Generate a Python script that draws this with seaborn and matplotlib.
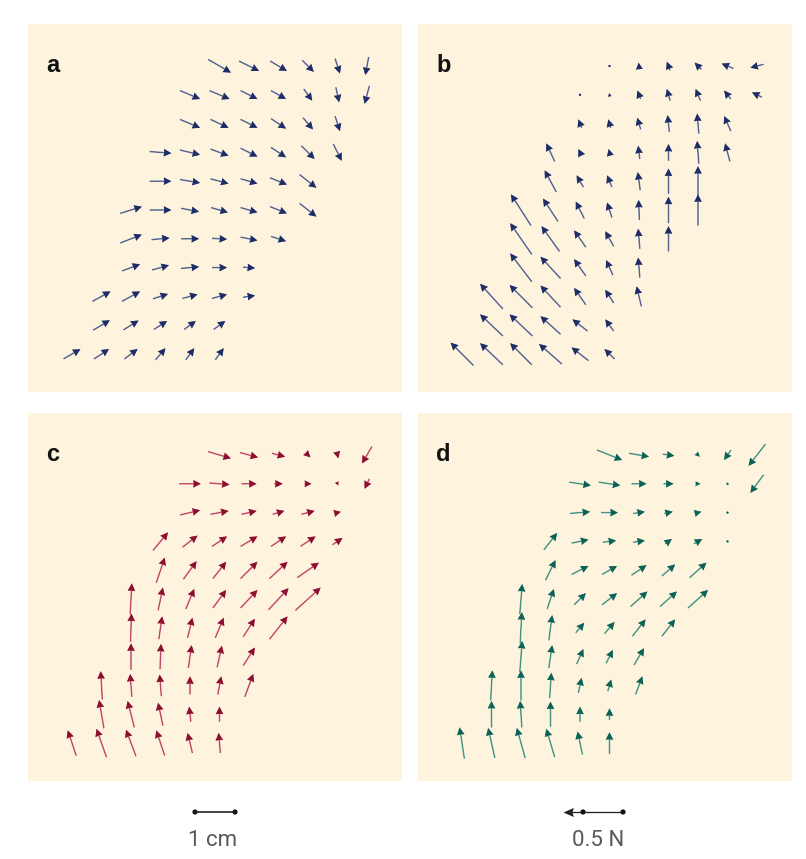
import numpy as np
import matplotlib
matplotlib.use("Agg")
import matplotlib.pyplot as plt
import seaborn as sns
import pandas as pd

# ---------------- grid of measurement points (column index range per row, bottom row first)
ROW_START = [0, 1, 1, 2, 2, 2, 3, 3, 4, 4, 5]
ROW_END = [5, 5, 6, 6, 7, 8, 8, 9, 9, 10, 10]
STEP_X_CM = 0.7375
STEP_Y_CM = 0.72

# ---------------- force vectors (N), one list per row, bottom row first
A_FX = [[0.14, 0.125, 0.11, 0.083, 0.07, 0.07],
        [0.14, 0.125, 0.11, 0.097, 0.097],
        [0.15, 0.15, 0.125, 0.125, 0.125, 0.10],
        [0.15, 0.14, 0.15, 0.125, 0.10],
        [0.18, 0.15, 0.15, 0.125, 0.14, 0.125],
        [0.18, 0.18, 0.15, 0.14, 0.14, 0.14, 0.14],
        [0.18, 0.167, 0.15, 0.14, 0.14, 0.14],
        [0.18, 0.167, 0.15, 0.14, 0.125, 0.11, 0.07],
        [0.167, 0.15, 0.14, 0.125, 0.083, 0.04],
        [0.167, 0.167, 0.14, 0.125, 0.07, 0.028, -0.04],
        [0.19, 0.167, 0.14, 0.097, 0.04, -0.028]]
A_FY = [[0.08, 0.083, 0.083, 0.097, 0.097, 0.097],
        [0.083, 0.078, 0.07, 0.07, 0.07],
        [0.083, 0.083, 0.04, 0.033, 0.033, 0.014],
        [0.056, 0.04, 0.014, 0.0, -0.008],
        [0.07, 0.014, 0.0, -0.008, -0.028, -0.04],
        [0.056, 0.0, -0.028, -0.04, -0.04, -0.056, -0.11],
        [0.0, -0.028, -0.04, -0.04, -0.056, -0.11],
        [-0.014, -0.04, -0.056, -0.07, -0.083, -0.11, -0.14],
        [-0.07, -0.07, -0.07, -0.083, -0.097, -0.125],
        [-0.07, -0.07, -0.07, -0.07, -0.097, -0.125, -0.15],
        [-0.11, -0.083, -0.083, -0.097, -0.125, -0.15]]

B_FX = [[-0.19, -0.19, -0.18, -0.19, -0.14, -0.083],
        [-0.19, -0.19, -0.167, -0.125, -0.07],
        [-0.19, -0.19, -0.167, -0.097, -0.07, -0.04],
        [-0.18, -0.167, -0.097, -0.056, -0.014],
        [-0.18, -0.15, -0.097, -0.07, -0.014, 0.0],
        [-0.167, -0.125, -0.07, -0.04, -0.006, 0.0, 0.0],
        [-0.097, -0.056, -0.04, -0.02, 0.0, 0.0],
        [-0.07, -0.028, -0.014, -0.014, 0.0, -0.014, -0.04],
        [-0.028, -0.02, -0.028, -0.014, -0.014, -0.056],
        [0.0, -0.006, -0.028, -0.028, -0.04, -0.056, -0.083],
        [0.0, -0.006, -0.028, -0.056, -0.097, -0.11]]
B_FY = [[0.19, 0.18, 0.18, 0.167, 0.11, 0.083],
        [0.18, 0.18, 0.15, 0.097, 0.097],
        [0.21, 0.19, 0.18, 0.14, 0.11, 0.167],
        [0.236, 0.18, 0.14, 0.125, 0.167],
        [0.26, 0.21, 0.14, 0.125, 0.167, 0.21],
        [0.26, 0.19, 0.14, 0.125, 0.167, 0.22, 0.26],
        [0.18, 0.097, 0.097, 0.15, 0.21, 0.25],
        [0.15, 0.056, 0.056, 0.11, 0.14, 0.19, 0.15],
        [0.07, 0.07, 0.097, 0.14, 0.167, 0.125],
        [0.02, 0.028, 0.07, 0.097, 0.097, 0.07, 0.04],
        [0.02, 0.056, 0.07, 0.056, 0.04, -0.028]]

C_FX = [[-0.07, -0.083, -0.083, -0.07, -0.04, -0.014],
        [-0.04, -0.056, -0.04, -0.014, 0.0],
        [-0.014, -0.014, -0.014, 0.0, 0.028, 0.07],
        [0.0, 0.008, 0.028, 0.04, 0.097],
        [0.008, 0.028, 0.04, 0.07, 0.097, 0.15],
        [0.014, 0.04, 0.07, 0.11, 0.14, 0.167, 0.21],
        [0.07, 0.11, 0.11, 0.14, 0.15, 0.18],
        [0.125, 0.125, 0.125, 0.14, 0.125, 0.125, 0.083],
        [0.167, 0.15, 0.125, 0.097, 0.11, 0.056],
        [0.18, 0.167, 0.125, 0.07, 0.056, 0.014, -0.04],
        [0.19, 0.15, 0.11, 0.04, 0.014, -0.083]]
C_FY = [[0.21, 0.236, 0.22, 0.21, 0.167, 0.167],
        [0.236, 0.22, 0.19, 0.125, 0.125],
        [0.236, 0.19, 0.18, 0.15, 0.15, 0.19],
        [0.22, 0.21, 0.19, 0.18, 0.15],
        [0.236, 0.19, 0.167, 0.167, 0.15, 0.19],
        [0.26, 0.19, 0.167, 0.15, 0.15, 0.18, 0.19],
        [0.21, 0.15, 0.14, 0.14, 0.14, 0.125],
        [0.15, 0.097, 0.083, 0.083, 0.083, 0.083, 0.056],
        [0.04, 0.028, 0.028, 0.028, 0.028, 0.014],
        [0.0, -0.014, 0.0, 0.0, 0.0, -0.028, -0.083],
        [-0.056, -0.04, -0.028, -0.04, -0.056, -0.14]]

D_FX = [[-0.04, -0.056, -0.07, -0.07, -0.04, 0.0],
        [0.0, -0.014, 0.0, 0.0, 0.0],
        [0.014, 0.0, 0.014, 0.028, 0.028, 0.056],
        [0.02, 0.028, 0.056, 0.056, 0.083],
        [0.014, 0.028, 0.07, 0.083, 0.11, 0.11],
        [0.02, 0.056, 0.097, 0.125, 0.14, 0.14, 0.167],
        [0.083, 0.14, 0.125, 0.125, 0.11, 0.14],
        [0.11, 0.14, 0.11, 0.097, 0.056, 0.07, 0.008],
        [0.167, 0.14, 0.097, 0.07, 0.056, 0.01],
        [0.18, 0.18, 0.125, 0.083, 0.04, 0.0, -0.11],
        [0.21, 0.167, 0.097, 0.028, -0.056, -0.14]]
D_FY = [[0.26, 0.25, 0.25, 0.236, 0.19, 0.18],
        [0.22, 0.22, 0.21, 0.125, 0.097],
        [0.25, 0.25, 0.21, 0.125, 0.097, 0.15],
        [0.26, 0.19, 0.125, 0.11, 0.14],
        [0.26, 0.21, 0.083, 0.097, 0.14, 0.14],
        [0.25, 0.167, 0.097, 0.097, 0.125, 0.125, 0.15],
        [0.167, 0.07, 0.07, 0.083, 0.097, 0.125],
        [0.14, 0.028, 0.014, 0.014, 0.04, 0.04, 0.0],
        [0.014, 0.0, 0.014, 0.014, 0.014, -0.01],
        [-0.028, -0.028, 0.0, 0.0, 0.0, -0.014, -0.15],
        [-0.083, -0.028, -0.014, -0.028, -0.083, -0.18]]

PANEL_LABELS = ["a", "b", "c", "d"]
SCALE_LEN_CM = 1.0
SCALE_FORCE_N = 0.5
SCALE_TEXTS = ["1 cm", "0.5 N"]

# ---------------- layout / style
W, H = 806, 859
PX_PER_CM = 40.0
N_PER_CM = 1.0 / 3.0          # 0.5 N drawn as 1.5 cm
PANEL_W, PANEL_H = 374, 368
PANEL_POS = {"a": (28, 24), "b": (418, 24), "c": (28, 413), "d": (418, 413)}
X_OFF_CM, Y_OFF_CM = 1.1, 0.95
BG = "#fef3dc"
COLORS = {"a": ("#6e7aa6", "#1f2d66"), "b": ("#6e7aa6", "#1f2d66"),
          "c": ("#d6637e", "#8a0f30"), "d": ("#5ea897", "#0d6156")}


def build_frame(fx, fy):
    rows = []
    for r, (s, e) in enumerate(zip(ROW_START, ROW_END)):
        for k, c in enumerate(range(s, e + 1)):
            rows.append({"x": c * STEP_X_CM, "y": r * STEP_Y_CM,
                         "fx": fx[r][k], "fy": fy[r][k]})
    return pd.DataFrame(rows)


sns.set_theme(style="white")
plt.rcParams["font.family"] = ["Liberation Sans", "DejaVu Sans"]

fig = plt.figure(figsize=(W / 100, H / 100), dpi=100)
fig.patch.set_facecolor("white")

data = {"a": (A_FX, A_FY), "b": (B_FX, B_FY), "c": (C_FX, C_FY), "d": (D_FX, D_FY)}

for lab in PANEL_LABELS:
    left, top = PANEL_POS[lab]
    ax = fig.add_axes([left / W, 1 - (top + PANEL_H) / H, PANEL_W / W, PANEL_H / H])
    ax.set_facecolor(BG)
    ax.set_xlim(-X_OFF_CM, PANEL_W / PX_PER_CM - X_OFF_CM)
    ax.set_ylim(-Y_OFF_CM, PANEL_H / PX_PER_CM - Y_OFF_CM)
    df = build_frame(*data[lab])
    shaft_c, head_c = COLORS[lab]
    common = dict(angles="xy", scale_units="xy", scale=N_PER_CM, pivot="middle", units="dots")
    ax.quiver(df["x"], df["y"], df["fx"], df["fy"], width=1.5, headwidth=5.0,
              headlength=5.0, headaxislength=4.7, minlength=1.6, color=shaft_c, **common)
    ax.quiver(df["x"], df["y"], df["fx"], df["fy"], width=0.3, headwidth=25.0,
              headlength=25.0, headaxislength=23.5, minlength=8.0, color=head_c, **common)
    for sp in ax.spines.values():
        sp.set_visible(False)
    ax.set_xticks([])
    ax.set_yticks([])
    ax.text(18 / PANEL_W, 1 - 48 / PANEL_H, lab, transform=ax.transAxes,
            fontsize=17, fontweight="bold", color="#111111", ha="left", va="baseline")

# ---------------- scale bars
axs = fig.add_axes([0, 0, 1, 77 / H])
axs.set_xlim(0, W / PX_PER_CM)
axs.set_ylim(0, 77 / PX_PER_CM)
axs.axis("off")
bar_y = 47 / PX_PER_CM
x0 = 195 / PX_PER_CM
bar = pd.DataFrame({"x": [x0, x0 + SCALE_LEN_CM], "y": [bar_y, bar_y]})
sns.lineplot(data=bar, x="x", y="y", ax=axs, color="#222222", lw=1.2)
sns.scatterplot(data=bar, x="x", y="y", ax=axs, color="#111111", s=14, edgecolor="none")

ftail = 623 / PX_PER_CM
axs.quiver([ftail], [bar_y], [-SCALE_FORCE_N], [0], angles="xy", scale_units="xy",
           scale=N_PER_CM, pivot="tail", units="dots", width=1.3, headwidth=7,
           headlength=8, headaxislength=7, color="#222222")
dots = pd.DataFrame({"x": [ftail - SCALE_LEN_CM, ftail], "y": [bar_y, bar_y]})
sns.scatterplot(data=dots, x="x", y="y", ax=axs, color="#111111", s=14, edgecolor="none")

axs.text(213 / PX_PER_CM, 19 / PX_PER_CM, SCALE_TEXTS[0], ha="center", va="center",
         fontsize=16, color="#5a5a5a", family=["Roboto", "DejaVu Sans"])
axs.text(598 / PX_PER_CM, 19 / PX_PER_CM, SCALE_TEXTS[1], ha="center", va="center",
         fontsize=16, color="#5a5a5a", family=["Roboto", "DejaVu Sans"])

fig.savefig("out.png", dpi=100, facecolor="white")
